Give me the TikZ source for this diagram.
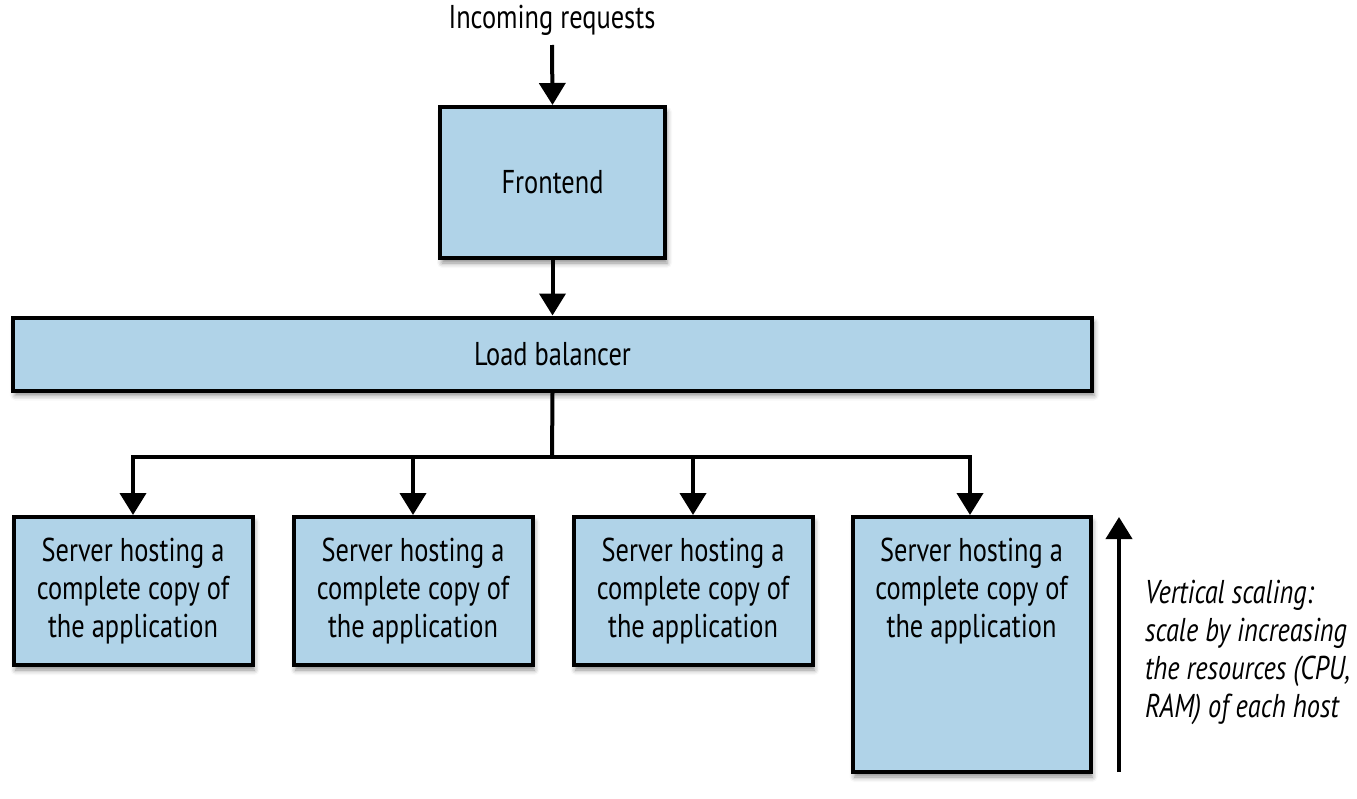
\documentclass[tikz,border=0pt]{standalone}
\usepackage{fontspec}
\setmainfont{PT Sans}[FakeStretch=0.8]
\usetikzlibrary{arrows.meta,shadows.blur}
\definecolor{boxblue}{RGB}{176,211,232}
\begin{document}
\begin{tikzpicture}[x=1pt,y=-1pt,
  box/.style={draw=black,line width=4pt,fill=boxblue,rectangle,inner sep=0pt,
    blur shadow={shadow xshift=2pt,shadow yshift=-5pt,shadow blur radius=5pt,shadow opacity=45}},
  lbl/.style={font=\fontsize{33}{38}\selectfont,align=center,inner sep=0pt},
  conn/.style={line width=4pt},
  arr/.style={line width=4pt,-{Triangle[length=22pt,width=26pt]}}]
\useasboundingbox (0,0) rectangle (1357,798);
\node[lbl] (in) at (552,20) {Incoming requests};
\node[box,minimum width=225pt,minimum height=151pt,lbl] (fe) at (552.5,182.5) {Frontend};
\node[box,minimum width=1079pt,minimum height=73pt,lbl] (lb) at (552.5,354) {Load balancer};
\node[box,minimum width=239pt,minimum height=148pt,lbl] (s1) at (133,591) {Server hosting a\\complete copy of\\the application};
\node[box,minimum width=239pt,minimum height=148pt,lbl] (s2) at (413,591) {Server hosting a\\complete copy of\\the application};
\node[box,minimum width=239pt,minimum height=148pt,lbl] (s3) at (693,591) {Server hosting a\\complete copy of\\the application};
\node[box,minimum width=238pt,minimum height=255pt] (s4) at (971.5,644.5) {};
\node[lbl] (s4t) at (971.5,591) {Server hosting a\\complete copy of\\the application};
\coordinate (j) at (552,457);
\draw[arr] (552,45) -- (fe.north);
\draw[arr] (fe.south) -- (lb.north);
\draw[conn] (lb.south) -- (j);
\draw[arr] (j) -| (s1.north);
\draw[arr] (j) -| (s2.north);
\draw[arr] (j) -| (s3.north);
\draw[arr] (j) -| ([xshift=-1.5pt]s4.north);
\coordinate (vb) at (1119,772);
\coordinate (vt) at (1119,517);
\draw[arr] (vb) -- (vt);
\node[lbl,align=left,anchor=west,font=\fontsize{33}{38}\selectfont\itshape] (vs) at (1145,652) {Vertical scaling:\\scale by increasing\\the resources (CPU,\\RAM) of each host};
\end{tikzpicture}
\end{document}
